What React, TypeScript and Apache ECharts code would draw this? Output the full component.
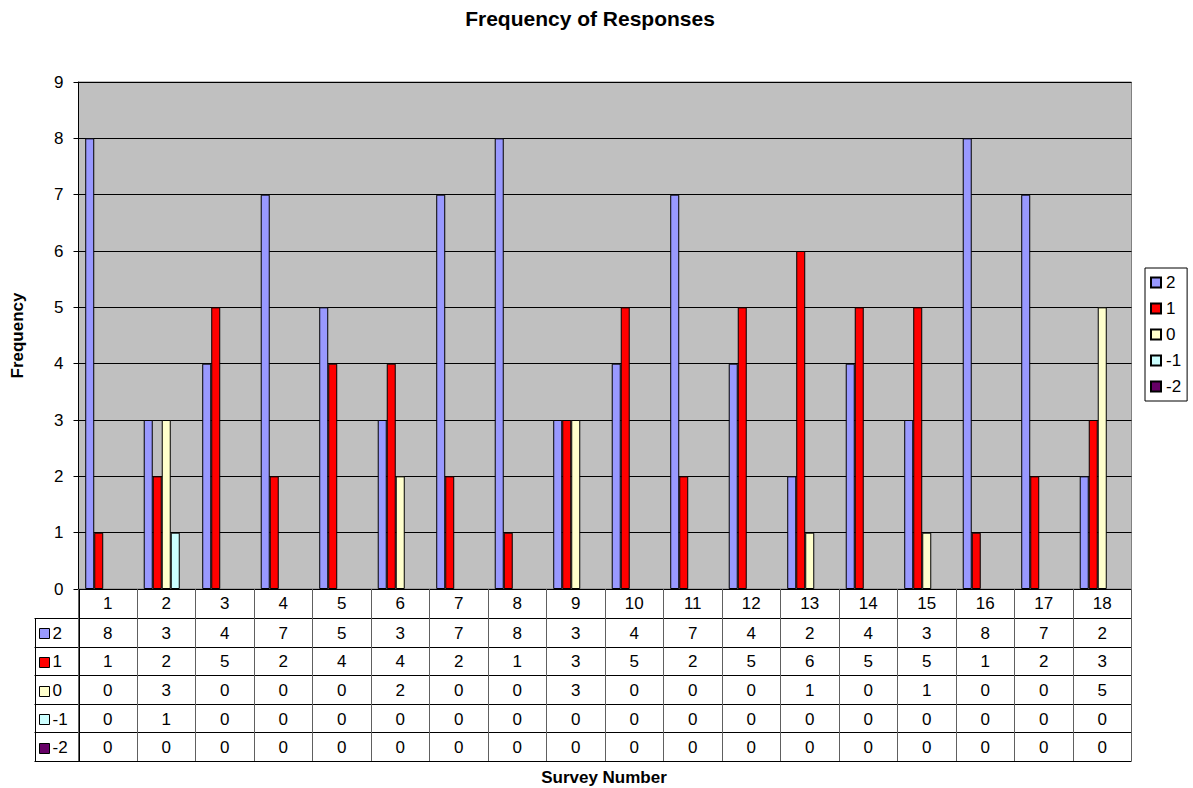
import React, { useEffect, useRef } from "react";
import * as echarts from "echarts";

// Survey categories and response counts per score
const surveys = ["1", "2", "3", "4", "5", "6", "7", "8", "9", "10", "11", "12", "13", "14", "15", "16", "17", "18"];
const scoreNames = ["2", "1", "0", "-1", "-2"];
const scoreColors = ["#9999FF", "#FF0000", "#FFFFCC", "#CCFFFF", "#660066"];
const score2 = [8, 3, 4, 7, 5, 3, 7, 8, 3, 4, 7, 4, 2, 4, 3, 8, 7, 2];
const score1 = [1, 2, 5, 2, 4, 4, 2, 1, 3, 5, 2, 5, 6, 5, 5, 1, 2, 3];
const score0 = [0, 3, 0, 0, 0, 2, 0, 0, 3, 0, 0, 0, 1, 0, 1, 0, 0, 5];
const scoreM1 = [0, 1, 0, 0, 0, 0, 0, 0, 0, 0, 0, 0, 0, 0, 0, 0, 0, 0];
const scoreM2 = [0, 0, 0, 0, 0, 0, 0, 0, 0, 0, 0, 0, 0, 0, 0, 0, 0, 0];
const yMin = 0;
const yMax = 9;
const yStep = 1;

const FONT = "'Liberation Sans', Arial, sans-serif";
const FS = 17;
const TABLE_FIRST_ROW = 29;
const TABLE_ROW = 28.6;
const KEY_COL = 44;

export default function App() {
  const ref = useRef<HTMLDivElement>(null);

  useEffect(() => {
    if (!ref.current) return;
    const chart = echarts.init(ref.current, null, { renderer: "svg" });
    const allScores = [score2, score1, score0, scoreM1, scoreM2];

    chart.setOption({
      animation: false,
      backgroundColor: "#FFFFFF",
      textStyle: { fontFamily: FONT, color: "#000" },
      grid: {
        left: 78.5,
        right: 61.5,
        top: 82,
        bottom: 199,
        show: true,
        backgroundColor: "#C0C0C0",
        borderColor: "#808080",
        borderWidth: 1,
      },
      legend: {
        orient: "vertical",
        left: 1145,
        top: 268,
        padding: [6, 6, 6, 5],
        itemWidth: 10,
        itemHeight: 10,
        itemGap: 9,
        borderColor: "#000",
        borderWidth: 1,
        backgroundColor: "#FFFFFF",
        textStyle: { fontSize: FS, fontFamily: FONT, color: "#000" },
        data: scoreNames.map((n) => ({ name: n, icon: "rect" })),
      },
      xAxis: {
        type: "category",
        data: surveys,
        axisLine: { lineStyle: { color: "#000", width: 1 } },
        // column separators of the data table run down from the axis
        axisTick: { show: true, length: TABLE_FIRST_ROW + TABLE_ROW * 5, lineStyle: { color: "#606060" } },
        axisLabel: { fontSize: FS, color: "#000", fontFamily: FONT, margin: 6 },
      },
      yAxis: {
        type: "value",
        min: yMin,
        max: yMax,
        interval: yStep,
        name: "Frequency",
        nameLocation: "middle",
        nameRotate: 90,
        nameGap: 53,
        nameTextStyle: { fontSize: FS, fontWeight: "bold", color: "#000", fontFamily: FONT },
        axisLine: { show: true, lineStyle: { color: "#000" } },
        axisTick: { show: true, length: 5, lineStyle: { color: "#000" } },
        axisLabel: { fontSize: FS, color: "#000", fontFamily: FONT, margin: 15 },
        splitLine: { show: true, lineStyle: { color: "#000", width: 1 } },
      },
      series: scoreNames.map((name, i) => ({
        name,
        type: "bar",
        barGap: "0%",
        barCategoryGap: "23%",
        itemStyle: { color: scoreColors[i], borderColor: "#000", borderWidth: 1 },
        data: allScores[i].map((v) => (v === 0 ? null : v)),
      })),
    });

    // Data table beneath the plot, laid out on the category axis
    const c0 = chart.convertToPixel({ xAxisIndex: 0 }, 0) as number;
    const cN = chart.convertToPixel({ xAxisIndex: 0 }, surveys.length - 1) as number;
    const colW = (cN - c0) / (surveys.length - 1);
    const leftX = c0 - colW / 2;
    const rightX = cN + colW / 2;
    const axisY = chart.convertToPixel({ yAxisIndex: 0 }, yMin) as number;
    const keyLeft = leftX - KEY_COL;

    const graphics: any[] = [];
    const firstTop = axisY + TABLE_FIRST_ROW;
    const tableBottom = Math.round(firstTop + scoreNames.length * TABLE_ROW) + 0.5;
    for (let r = 0; r <= scoreNames.length; r++) {
      const y = Math.round(firstTop + r * TABLE_ROW) + 0.5;
      graphics.push({
        type: "line",
        shape: { x1: keyLeft, y1: y, x2: rightX, y2: y },
        style: { stroke: "#000", lineWidth: 1 },
        silent: true,
      });
    }
    // left edges of the key column and of the value columns
    [Math.round(keyLeft) + 0.5].forEach((x) => {
      graphics.push({
        type: "line",
        shape: { x1: x, y1: Math.round(firstTop) + 0.5, x2: x, y2: tableBottom },
        style: { stroke: "#000", lineWidth: 1 },
        silent: true,
      });
    });
    graphics.push({
      type: "line",
      shape: { x1: Math.round(leftX) + 0.5, y1: axisY, x2: Math.round(leftX) + 0.5, y2: tableBottom },
      style: { stroke: "#000", lineWidth: 1 },
      silent: true,
    });
    scoreNames.forEach((name, r) => {
      const cy = firstTop + r * TABLE_ROW + TABLE_ROW / 2;
      graphics.push({
        type: "rect",
        shape: { x: Math.round(keyLeft + 4) + 0.5, y: Math.round(cy - 4) + 0.5, width: 10, height: 10 },
        style: { fill: scoreColors[r], stroke: "#000", lineWidth: 1 },
        silent: true,
      });
      graphics.push({
        type: "text",
        x: keyLeft + 18,
        y: cy + 1,
        style: { text: name, fontSize: FS, fontFamily: FONT, fill: "#000", align: "left", verticalAlign: "middle" },
        silent: true,
      });
      allScores[r].forEach((v, c) => {
        const cx = chart.convertToPixel({ xAxisIndex: 0 }, c) as number;
        graphics.push({
          type: "text",
          x: cx,
          y: cy + 1,
          style: { text: String(v), fontSize: FS, fontFamily: FONT, fill: "#000", align: "center", verticalAlign: "middle" },
          silent: true,
        });
      });
    });
    graphics.push({
      type: "text",
      x: 590,
      y: 18,
      style: {
        text: "Frequency of Responses",
        fontSize: 21,
        fontWeight: "bold",
        fontFamily: FONT,
        fill: "#000",
        align: "center",
        verticalAlign: "middle",
      },
      silent: true,
    });
    graphics.push({
      type: "text",
      x: 604,
      y: 777,
      style: {
        text: "Survey Number",
        fontSize: FS,
        fontWeight: "bold",
        fontFamily: FONT,
        fill: "#000",
        align: "center",
        verticalAlign: "middle",
      },
      silent: true,
    });
    chart.setOption({ graphic: graphics });

    return () => chart.dispose();
  }, []);

  return (
    <div
      ref={ref}
      style={{ position: "fixed", left: 0, top: 0, width: 1193, height: 788, background: "#fff" }}
    />
  );
}
